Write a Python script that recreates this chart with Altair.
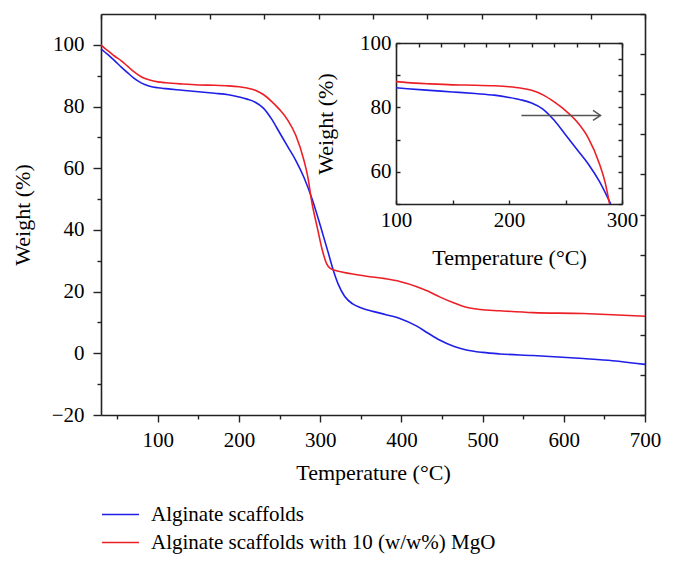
import altair as alt
import pandas as pd

SERIES = ["Alginate scaffolds", "Alginate scaffolds with 10 (w/w%) MgO"]
COLORS = ["#1f1fe8", "#ec1f26"]

blue_T = [30, 35, 40, 47, 55, 63, 70, 80, 90, 100, 110, 130, 150, 170, 187, 200, 210, 220, 230,
          240, 250, 260, 270, 280, 290, 300, 310, 316, 322, 330, 340, 350, 365, 380, 398, 419,
          433, 447, 465, 480, 500, 521, 562, 624, 660, 700]
blue_W = [98.7, 97.6, 96.5, 94.8, 92.8, 90.9, 89.3, 87.6, 86.6, 86.1, 85.8, 85.3, 84.8, 84.3, 83.8,
          83.1, 82.4, 81.4, 79.5, 76.0, 71.5, 67.0, 62.5, 57.0, 50.0, 41.5, 32.5, 27.0, 22.5, 18.5,
          16.0, 14.8, 13.6, 12.6, 11.3, 8.8, 6.5, 4.3, 2.2, 1.1, 0.3, -0.2, -0.7, -1.7, -2.4, -3.6]

red_T = [30, 35, 40, 47, 55, 63, 70, 80, 90, 100, 110, 130, 150, 170, 187, 200, 210, 220, 230,
         240, 250, 260, 270, 280, 285, 289, 297, 303, 308, 312, 318, 328, 340, 357, 380, 398, 419,
         433, 447, 465, 480, 497, 521, 562, 624, 660, 700]
red_W = [100.0, 98.8, 97.8, 96.3, 94.8, 93.0, 91.4, 89.6, 88.6, 88.0, 87.7, 87.3, 87.0, 86.9, 86.7,
         86.4, 86.0, 85.3, 83.9, 81.7, 79.0, 75.6, 70.6, 62.5, 56.8, 50.0, 40.0, 33.0, 29.0, 27.6,
         26.9, 26.3, 25.7, 25.0, 24.2, 23.3, 21.6, 20.1, 18.3, 16.3, 14.9, 14.2, 13.8, 13.2, 12.9,
         12.5, 12.0]

main_x_ticks = [100, 200, 300, 400, 500, 600, 700]
main_x_minor = [50, 150, 250, 350, 450, 550, 650]
main_y_ticks = [-20, 0, 20, 40, 60, 80, 100]
main_y_minor = [-10, 10, 30, 50, 70, 90]
mirror_ticks = list(range(11))

inset_x_ticks = [100, 200, 300]
inset_x_inner = [100, 150, 200, 250, 300]
inset_x_top = [100, 120, 140, 160, 180, 200, 220, 240, 260, 280, 300]
inset_y_ticks = [60, 80, 100]
inset_y_inner = [50, 60, 70, 80, 90, 100]
inset_y_right = [50, 55, 60, 65, 70, 75, 80, 85, 90, 95, 100]

arrow_T = [211, 281]
arrow_W = [77.5, 77.5]

FONT = "Liberation Serif"
W, H = 544, 401
XL, XR, YT, YB = 295, 521, 29, 190

df = pd.DataFrame({
    "T": blue_T + red_T,
    "W": blue_W + red_W,
    "S": [SERIES[0]] * len(blue_T) + [SERIES[1]] * len(red_T),
})
dummy = pd.DataFrame({"a": [0.0], "b": [0.0]})

main_x = alt.Scale(domain=[30, 700], nice=False, zero=False)
main_y = alt.Scale(domain=[-20, 110], nice=False, zero=False)
mir_s = alt.Scale(domain=[0, 10], nice=False, zero=False)
ins_x = alt.Scale(domain=[100, 300], range=[XL, XR], nice=False, zero=False)
ins_y = alt.Scale(domain=[50, 100], range=[YB, YT], nice=False, zero=False)

color_enc = alt.Color(
    "S:N",
    scale=alt.Scale(domain=SERIES, range=COLORS),
    legend=alt.Legend(orient="none", legendX=9, legendY=490, direction="vertical",
                      symbolType="M-2,0L2,0", symbolSize=342, symbolStrokeWidth=1.6,
                      labelFont=FONT, labelFontSize=21, labelColor="black", labelOffset=20,
                      rowPadding=6, title=None, padding=0, labelLimit=600),
)


def axis_layer(xscale, xaxis, yscale, yaxis):
    return alt.Chart(dummy).mark_point(opacity=0).encode(
        x=alt.X("a:Q", scale=xscale, axis=xaxis),
        y=alt.Y("b:Q", scale=yscale, axis=yaxis),
    )


lines_main = alt.Chart(df).mark_line(strokeWidth=1.6, interpolate="monotone").encode(
    x=alt.X("T:Q", scale=main_x,
            axis=alt.Axis(orient="bottom", values=main_x_ticks, tickSize=7, labelPadding=7,
                          labelFlush=False, title="Temperature (°C)", titlePadding=12)),
    y=alt.Y("W:Q", scale=main_y,
            axis=alt.Axis(orient="left", values=main_y_ticks, tickSize=8, labelPadding=9,
                          title="Weight (%)", titlePadding=17)),
    color=color_enc,
)

minor = axis_layer(
    main_x, alt.Axis(orient="bottom", values=main_x_minor, tickSize=4, labels=False,
                     domain=False, title=None),
    main_y, alt.Axis(orient="left", values=main_y_minor, tickSize=4, labels=False,
                     domain=False, title=None),
)

mirror = axis_layer(
    mir_s, alt.Axis(orient="bottom", offset=-H, values=mirror_ticks, tickSize=5, labels=False,
                    title=None),
    mir_s, alt.Axis(orient="left", offset=-W, values=mirror_ticks, tickSize=5, labels=False,
                    title=None),
)

inset_lines = alt.Chart(df).transform_filter(
    "datum.T >= 100 && datum.T <= 290"
).mark_line(strokeWidth=1.6, interpolate="monotone").encode(
    x=alt.X("T:Q", scale=ins_x,
            axis=alt.Axis(orient="bottom", offset=YB - H, values=inset_x_ticks, ticks=False,
                          tickSize=0, labelPadding=5, labelFlush=False,
                          title="Temperature (°C)", titlePadding=17)),
    y=alt.Y("W:Q", scale=ins_y,
            axis=alt.Axis(orient="left", offset=-XL, values=inset_y_ticks, ticks=False,
                          tickSize=0, labelPadding=5, title="Weight (%)", titlePadding=22)),
    color=color_enc,
)

inset_ticks = axis_layer(
    ins_x, alt.Axis(orient="top", offset=-YB, values=inset_x_inner, tickSize=4, labels=False,
                    domain=False, title=None),
    ins_y, alt.Axis(orient="right", offset=XL - W, values=inset_y_inner, tickSize=4,
                    labels=False, domain=False, title=None),
)

inset_mirror = axis_layer(
    ins_x, alt.Axis(orient="bottom", offset=YT - H, values=inset_x_top, tickSize=4,
                    labels=False, title=None),
    ins_y, alt.Axis(orient="left", offset=-XR, values=inset_y_right, tickSize=4,
                    labels=False, title=None),
)

arrow_df = pd.DataFrame({"x": [arrow_T[0]], "x2": [arrow_T[1]], "y": [arrow_W[0]]})
arrow_rule = alt.Chart(arrow_df).mark_rule(color="#555555", strokeWidth=1.5).encode(
    x=alt.X("x:Q", scale=ins_x, axis=None),
    x2="x2:Q",
    y=alt.Y("y:Q", scale=ins_y, axis=None),
)
arrow_head = alt.Chart(arrow_df).mark_point(
    shape="M-1.5,-1L0,0L-1.5,1", filled=False, size=100, strokeWidth=1.5, color="#555555",
    opacity=1,
).encode(
    x=alt.X("x2:Q", scale=ins_x, axis=None),
    y=alt.Y("y:Q", scale=ins_y, axis=None),
)

chart = alt.layer(
    lines_main, minor, mirror, inset_lines, inset_ticks, inset_mirror, arrow_rule, arrow_head
).resolve_scale(
    x="independent", y="independent"
).properties(
    width=W, height=H,
    autosize=alt.AutoSizeParams(type="none"),
    padding={"left": 93, "top": 6, "right": 21, "bottom": 144},
).configure_axis(
    grid=False, labelFont=FONT, titleFont=FONT, labelFontSize=21, titleFontSize=22,
    titleFontWeight="normal", labelColor="black", titleColor="black",
    domainColor="#222222", tickColor="#222222", domainWidth=1.6, tickWidth=1.4,
).configure_view(stroke=None)

chart.save("out.html", embed_options={"renderer": "svg", "actions": False})
